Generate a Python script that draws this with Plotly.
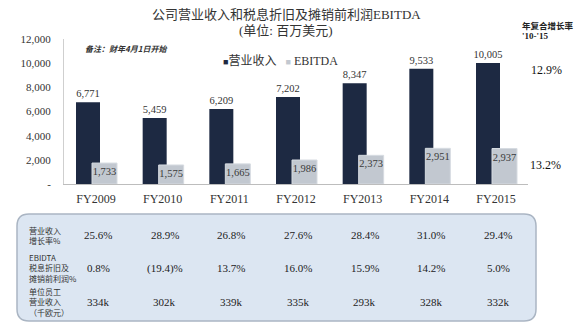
import plotly.graph_objects as go

years = ["FY2009", "FY2010", "FY2011", "FY2012", "FY2013", "FY2014", "FY2015"]
revenue = [6771, 5459, 6209, 7202, 8347, 9533, 10005]
ebitda = [1733, 1575, 1665, 1986, 2373, 2951, 2937]
rev_growth = ["25.6%", "28.9%", "26.8%", "27.6%", "28.4%", "31.0%", "29.4%"]
ebitda_growth = ["0.8%", "(19.4)%", "13.7%", "16.0%", "15.9%", "14.2%", "5.0%"]
rev_per_emp = ["334k", "302k", "339k", "335k", "293k", "328k", "332k"]
row_labels = ["营业收入<br>增长率%", "EBIDTA<br>税息折旧及<br>摊销前利润%", "单位员工<br>营业收入<br>（千欧元）"]
ytick_vals = [0, 2000, 4000, 6000, 8000, 10000, 12000]
ytick_text = ["-", "2,000", "4,000", "6,000", "8,000", "10,000", "12,000"]
series_names = ["营业收入", "EBITDA"]
cagr_rev = "12.9%"
cagr_ebitda = "13.2%"

SERIF = "Liberation Serif, Times New Roman, Noto Sans CJK SC, serif"
CJK = "Noto Sans CJK SC, sans-serif"
DARK = "#1d2942"
GREY = "#c2c8d0"

fig = go.Figure()
fig.add_trace(go.Bar(
    x=years, y=revenue, name=series_names[0],
    marker=dict(color=DARK, line=dict(width=0)),
    offset=-0.30, width=0.36,
    text=[f"{v:,}" for v in revenue], textposition="outside",
    textfont=dict(family=SERIF, size=10.5, color="#333333"),
    constraintext="none", cliponaxis=False,
))
fig.add_trace(go.Bar(
    x=years, y=ebitda, name=series_names[1],
    marker=dict(color=GREY, line=dict(width=1, color="#d6dbe1")),
    offset=-0.06, width=0.375,
    text=[f"{v:,}" for v in ebitda], textposition="inside", insidetextanchor="end",
    textangle=0,
    textfont=dict(family=SERIF, size=10.5, color="#3a3a3a"),
    constraintext="none",
))

# plot area: x 64..528 px, y 39..184 px
def py(ypx):
    return (184 - ypx) / 145.0

def px(xpx):
    return (xpx - 64) / 464.0

ann = []
ann.append(dict(x=px(286), y=py(15), xref="paper", yref="paper",
                text="公司营业收入和税息折旧及摊销前利润EBITDA", showarrow=False,
                font=dict(family=SERIF, size=13, color="#333333"), xanchor="center", yanchor="middle"))
ann.append(dict(x=px(286), y=py(31), xref="paper", yref="paper",
                text="(单位: 百万美元)", showarrow=False,
                font=dict(family=SERIF, size=13, color="#333333"), xanchor="center", yanchor="middle"))
ann.append(dict(x=px(83), y=py(48), xref="paper", yref="paper",
                text="<b><i>备注：财年4月1日开始</i></b>", showarrow=False,
                font=dict(family=CJK, size=8, color="#333333"), xanchor="left", yanchor="middle"))
ann.append(dict(x=px(520), y=py(25), xref="paper", yref="paper",
                text="<b>年复合增长率</b>", showarrow=False, align="left",
                font=dict(family=CJK, size=8.5, color="#222222"), xanchor="left", yanchor="middle"))
ann.append(dict(x=px(520), y=py(36), xref="paper", yref="paper",
                text="<b>'10-'15</b>", showarrow=False, align="left",
                font=dict(family=SERIF, size=9, color="#222222"), xanchor="left", yanchor="middle"))
ann.append(dict(x=px(529), y=py(70), xref="paper", yref="paper",
                text=cagr_rev, showarrow=False,
                font=dict(family=SERIF, size=12, color="#111111"), xanchor="left", yanchor="middle"))
ann.append(dict(x=px(528), y=py(165), xref="paper", yref="paper",
                text=cagr_ebitda, showarrow=False,
                font=dict(family=SERIF, size=12, color="#111111"), xanchor="left", yanchor="middle"))

# legend as text
legend_text = (f"<span style='color:{DARK};font-size:9px'>■</span>{series_names[0]}"
               f"   <span style='color:{GREY};font-size:9px'>■</span> {series_names[1]}")
ann.append(dict(x=px(221), y=py(61), xref="paper", yref="paper",
                text=legend_text, showarrow=False,
                font=dict(family=SERIF, size=12, color="#333333"), xanchor="left", yanchor="middle"))

# table
row_y = [235, 268, 302]
for lbl, ry in zip(row_labels, row_y):
    ann.append(dict(x=px(27), y=py(ry), xref="paper", yref="paper", text=lbl,
                    showarrow=False, align="left",
                    font=dict(family=CJK, size=8, color="#333333"),
                    xanchor="left", yanchor="middle"))
for row, ry in zip([rev_growth, ebitda_growth, rev_per_emp], row_y):
    for cat, val in zip(years, row):
        ann.append(dict(x=cat, y=py(ry), xref="x", yref="paper", text=val,
                        showarrow=False, xshift=2,
                        font=dict(family=SERIF, size=11, color="#222222"),
                        xanchor="center", yanchor="middle"))

# rounded box
x0, x1 = px(17), px(536)
yt, yb = py(214), py(321)
rx, ry_ = 12 / 464.0, 12 / 145.0
path = (f"M {x0+rx},{yt} L {x1-rx},{yt} Q {x1},{yt} {x1},{yt-ry_} "
        f"L {x1},{yb+ry_} Q {x1},{yb} {x1-rx},{yb} L {x0+rx},{yb} "
        f"Q {x0},{yb} {x0},{yb+ry_} L {x0},{yt-ry_} Q {x0},{yt} {x0+rx},{yt} Z")
shapes = [dict(type="path", path=path, xref="paper", yref="paper",
               fillcolor="#dce6f2", line=dict(color="#aab5c3", width=1.5), layer="below")]

fig.update_layout(
    width=580, height=326,
    margin=dict(l=64, r=52, t=39, b=142),
    paper_bgcolor="white", plot_bgcolor="white",
    barmode="overlay",
    showlegend=False,
    annotations=ann,
    shapes=shapes,
    xaxis=dict(range=[-0.48, 6.48], showgrid=False, showline=True, linecolor="#bdbdbd",
               linewidth=1, ticks="", tickfont=dict(family=SERIF, size=12, color="#333333"),
               ticklabelstandoff=4, zeroline=False),
    yaxis=dict(range=[0, 12000], showgrid=False, showline=True, linecolor="#cfcfcf",
               linewidth=1, ticks="", tickvals=ytick_vals, ticktext=ytick_text,
               tickfont=dict(family=SERIF, size=11, color="#333333"),
               ticklabelstandoff=10, zeroline=False),
)

fig.write_html("out.html")
